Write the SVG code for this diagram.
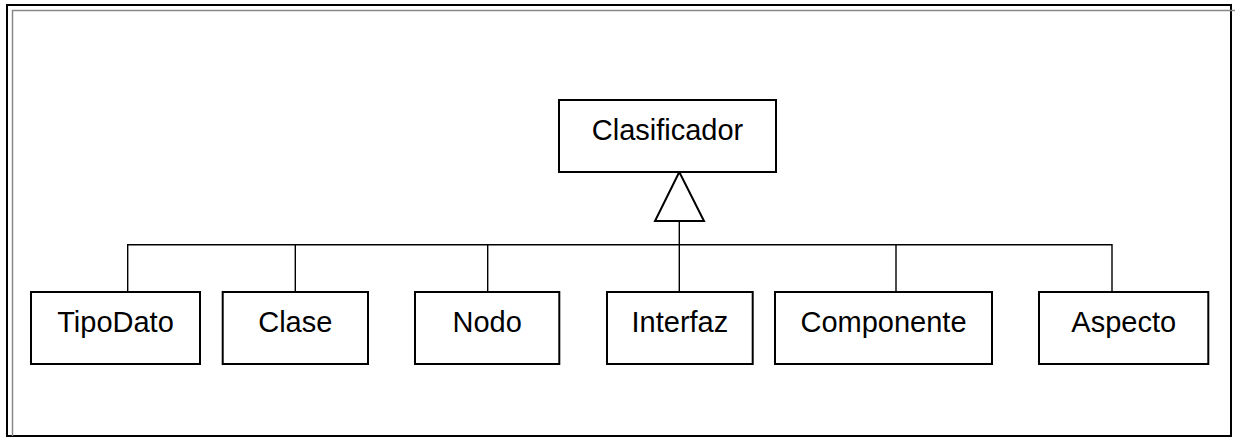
<svg xmlns="http://www.w3.org/2000/svg" width="1235" height="438" viewBox="0 0 1235 438">
<style>
.box{fill:#fff;stroke:#000;stroke-width:2}
.lbl{font-family:"Liberation Sans",Arial,sans-serif;font-size:29px;fill:#000;text-anchor:middle}
.conn{fill:none;stroke:#000;stroke-width:1.4}
</style>
<rect width="1235" height="438" fill="#fff"/>
<g id="frame">
<rect x="7" y="5" width="1224" height="431" fill="none" stroke="#000" stroke-width="2"/>
<path d="M12.5 436 V10.5 H1235" fill="none" stroke="#888" stroke-width="1.5"/>
</g>
<g id="connectors">
<path class="conn" d="M127.7 292 V244.7 H1112 V292 M295.3 244.7 V292 M487.7 244.7 V292 M896 244.7 V292 M679.3 221 V292"/>
<polygon points="679.3,172 655,221 704,221" fill="#fff" stroke="#000" stroke-width="2"/>
</g>
<g id="Clasificador">
<rect class="box" x="559" y="100" width="217" height="72"/>
<text class="lbl" x="667.5" y="139.5">Clasificador</text>
</g>
<g id="TipoDato">
<rect class="box" x="31" y="292" width="169" height="72"/>
<text class="lbl" x="115.5" y="331.5">TipoDato</text>
</g>
<g id="Clase">
<rect class="box" x="222.7" y="292" width="145.3" height="72"/>
<text class="lbl" x="295.3" y="331.5">Clase</text>
</g>
<g id="Nodo">
<rect class="box" x="415" y="292" width="144.3" height="72"/>
<text class="lbl" x="487.2" y="331.5">Nodo</text>
</g>
<g id="Interfaz">
<rect class="box" x="607" y="292" width="145.7" height="72"/>
<text class="lbl" x="679.9" y="331.5">Interfaz</text>
</g>
<g id="Componente">
<rect class="box" x="775" y="292" width="217" height="72"/>
<text class="lbl" x="883.5" y="331.5">Componente</text>
</g>
<g id="Aspecto">
<rect class="box" x="1039" y="292" width="169.3" height="72"/>
<text class="lbl" x="1123.7" y="331.5">Aspecto</text>
</g>
</svg>
